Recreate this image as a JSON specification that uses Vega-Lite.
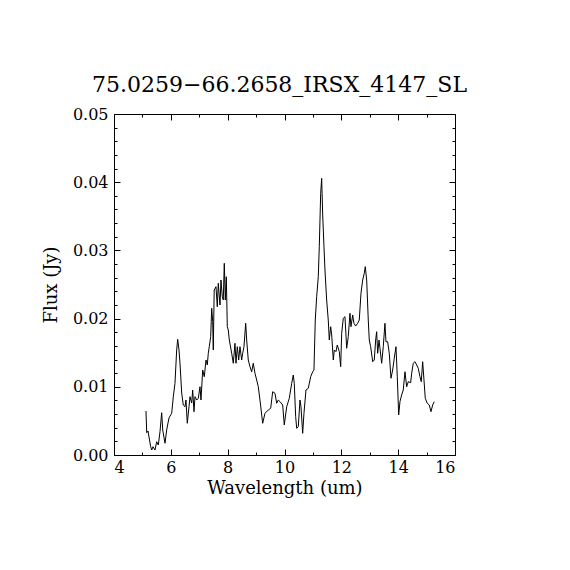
{
  "$schema": "https://vega.github.io/schema/vega-lite/v6.json",
  "width": 341,
  "height": 341,
  "autosize": "none",
  "padding": {"left": 114, "top": 114, "right": 115, "bottom": 115},
  "background": "white",
  "title": {
    "text": "75.0259−66.2658_IRSX_4147_SL",
    "font": "DejaVu Serif",
    "fontSize": 22,
    "fontWeight": "normal",
    "color": "black",
    "offset": 9,
    "dx": -5
  },
  "config": {
    "view": {"stroke": "black", "strokeWidth": 1},
    "axis": {
      "domain": false,
      "grid": false,
      "tickColor": "black",
      "tickWidth": 1,
      "labelColor": "black",
      "labelFont": "DejaVu Serif",
      "labelFontSize": 16,
      "titleColor": "black",
      "titleFont": "DejaVu Serif",
      "titleFontSize": 18,
      "titleFontWeight": "normal"
    }
  },
  "data": {
    "values": [
      {"wavelength": 5.126, "flux": 0.00645},
      {"wavelength": 5.151, "flux": 0.00327},
      {"wavelength": 5.196, "flux": 0.00352},
      {"wavelength": 5.291, "flux": 0.00122},
      {"wavelength": 5.327, "flux": 0.00073},
      {"wavelength": 5.372, "flux": 0.00122},
      {"wavelength": 5.443, "flux": 0.00073},
      {"wavelength": 5.502, "flux": 0.00195},
      {"wavelength": 5.559, "flux": 0.00147},
      {"wavelength": 5.619, "flux": 0.00342},
      {"wavelength": 5.678, "flux": 0.0062},
      {"wavelength": 5.714, "flux": 0.00367},
      {"wavelength": 5.795, "flux": 0.00172},
      {"wavelength": 5.854, "flux": 0.00367},
      {"wavelength": 5.935, "flux": 0.00543},
      {"wavelength": 6.03, "flux": 0.00611},
      {"wavelength": 6.087, "flux": 0.00855},
      {"wavelength": 6.146, "flux": 0.01051},
      {"wavelength": 6.206, "flux": 0.0154},
      {"wavelength": 6.241, "flux": 0.01696},
      {"wavelength": 6.287, "flux": 0.0154},
      {"wavelength": 6.322, "flux": 0.01349},
      {"wavelength": 6.382, "flux": 0.00909},
      {"wavelength": 6.438, "flux": 0.00733},
      {"wavelength": 6.498, "flux": 0.00708},
      {"wavelength": 6.533, "flux": 0.00806},
      {"wavelength": 6.579, "flux": 0.00465},
      {"wavelength": 6.639, "flux": 0.00708},
      {"wavelength": 6.674, "flux": 0.00855},
      {"wavelength": 6.734, "flux": 0.00762},
      {"wavelength": 6.769, "flux": 0.00953},
      {"wavelength": 6.815, "flux": 0.00635},
      {"wavelength": 6.85, "flux": 0.00855},
      {"wavelength": 6.91, "flux": 0.00806},
      {"wavelength": 6.966, "flux": 0.00831},
      {"wavelength": 7.026, "flux": 0.01001},
      {"wavelength": 7.061, "flux": 0.00806},
      {"wavelength": 7.121, "flux": 0.01246},
      {"wavelength": 7.177, "flux": 0.01148},
      {"wavelength": 7.237, "flux": 0.01393},
      {"wavelength": 7.283, "flux": 0.0132},
      {"wavelength": 7.318, "flux": 0.01491},
      {"wavelength": 7.353, "flux": 0.01588},
      {"wavelength": 7.403, "flux": 0.01735},
      {"wavelength": 7.438, "flux": 0.02151},
      {"wavelength": 7.473, "flux": 0.01955},
      {"wavelength": 7.494, "flux": 0.0154},
      {"wavelength": 7.526, "flux": 0.02419},
      {"wavelength": 7.589, "flux": 0.02468},
      {"wavelength": 7.634, "flux": 0.02174},
      {"wavelength": 7.67, "flux": 0.02518},
      {"wavelength": 7.73, "flux": 0.02199},
      {"wavelength": 7.765, "flux": 0.02566},
      {"wavelength": 7.811, "flux": 0.02321},
      {"wavelength": 7.846, "flux": 0.02273},
      {"wavelength": 7.881, "flux": 0.02811},
      {"wavelength": 7.917, "flux": 0.02273},
      {"wavelength": 7.952, "flux": 0.02614},
      {"wavelength": 7.987, "flux": 0.01881},
      {"wavelength": 8.022, "flux": 0.01833},
      {"wavelength": 8.058, "flux": 0.01686},
      {"wavelength": 8.142, "flux": 0.01491},
      {"wavelength": 8.198, "flux": 0.01345},
      {"wavelength": 8.258, "flux": 0.01638},
      {"wavelength": 8.293, "flux": 0.01345},
      {"wavelength": 8.339, "flux": 0.01588},
      {"wavelength": 8.388, "flux": 0.01393},
      {"wavelength": 8.433, "flux": 0.01588},
      {"wavelength": 8.493, "flux": 0.01393},
      {"wavelength": 8.528, "flux": 0.01491},
      {"wavelength": 8.574, "flux": 0.01588},
      {"wavelength": 8.634, "flux": 0.01931},
      {"wavelength": 8.669, "flux": 0.01686},
      {"wavelength": 8.725, "flux": 0.01393},
      {"wavelength": 8.785, "flux": 0.01295},
      {"wavelength": 8.845, "flux": 0.01221},
      {"wavelength": 8.901, "flux": 0.01345},
      {"wavelength": 8.961, "flux": 0.01198},
      {"wavelength": 9.021, "flux": 0.011},
      {"wavelength": 9.077, "flux": 0.01001},
      {"wavelength": 9.137, "flux": 0.00806},
      {"wavelength": 9.232, "flux": 0.00465},
      {"wavelength": 9.313, "flux": 0.00611},
      {"wavelength": 9.429, "flux": 0.0066},
      {"wavelength": 9.514, "flux": 0.00685},
      {"wavelength": 9.584, "flux": 0.00928},
      {"wavelength": 9.665, "flux": 0.00905},
      {"wavelength": 9.725, "flux": 0.00758},
      {"wavelength": 9.781, "flux": 0.00806},
      {"wavelength": 9.841, "flux": 0.00782},
      {"wavelength": 9.936, "flux": 0.00733},
      {"wavelength": 9.992, "flux": 0.0044},
      {"wavelength": 10.077, "flux": 0.00708},
      {"wavelength": 10.168, "flux": 0.00831},
      {"wavelength": 10.253, "flux": 0.01051},
      {"wavelength": 10.309, "flux": 0.01173},
      {"wavelength": 10.344, "flux": 0.01051},
      {"wavelength": 10.393, "flux": 0.00562},
      {"wavelength": 10.429, "flux": 0.00391},
      {"wavelength": 10.485, "flux": 0.00415},
      {"wavelength": 10.545, "flux": 0.00806},
      {"wavelength": 10.58, "flux": 0.00708},
      {"wavelength": 10.64, "flux": 0.00318},
      {"wavelength": 10.685, "flux": 0.00611},
      {"wavelength": 10.756, "flux": 0.00953},
      {"wavelength": 10.837, "flux": 0.00978},
      {"wavelength": 10.921, "flux": 0.01148},
      {"wavelength": 10.992, "flux": 0.01221},
      {"wavelength": 11.037, "flux": 0.01246},
      {"wavelength": 11.083, "flux": 0.01979},
      {"wavelength": 11.132, "flux": 0.02321},
      {"wavelength": 11.189, "flux": 0.02614},
      {"wavelength": 11.224, "flux": 0.03054},
      {"wavelength": 11.273, "flux": 0.03837},
      {"wavelength": 11.308, "flux": 0.04057},
      {"wavelength": 11.344, "flux": 0.03519},
      {"wavelength": 11.389, "flux": 0.03054},
      {"wavelength": 11.424, "flux": 0.02713},
      {"wavelength": 11.484, "flux": 0.02273},
      {"wavelength": 11.54, "flux": 0.01979},
      {"wavelength": 11.576, "flux": 0.01686},
      {"wavelength": 11.625, "flux": 0.01881},
      {"wavelength": 11.66, "flux": 0.0176},
      {"wavelength": 11.717, "flux": 0.01393},
      {"wavelength": 11.752, "flux": 0.0154},
      {"wavelength": 11.811, "flux": 0.01515},
      {"wavelength": 11.857, "flux": 0.01613},
      {"wavelength": 11.928, "flux": 0.01515},
      {"wavelength": 11.977, "flux": 0.01295},
      {"wavelength": 12.012, "flux": 0.01784},
      {"wavelength": 12.068, "flux": 0.02004},
      {"wavelength": 12.128, "flux": 0.02028},
      {"wavelength": 12.188, "flux": 0.01565},
      {"wavelength": 12.244, "flux": 0.01735},
      {"wavelength": 12.304, "flux": 0.02078},
      {"wavelength": 12.339, "flux": 0.01881},
      {"wavelength": 12.399, "flux": 0.02053},
      {"wavelength": 12.445, "flux": 0.01931},
      {"wavelength": 12.505, "flux": 0.01891},
      {"wavelength": 12.575, "flux": 0.01931},
      {"wavelength": 12.631, "flux": 0.01979},
      {"wavelength": 12.691, "flux": 0.02371},
      {"wavelength": 12.751, "flux": 0.02566},
      {"wavelength": 12.807, "flux": 0.02664},
      {"wavelength": 12.842, "flux": 0.02761},
      {"wavelength": 12.892, "flux": 0.02566},
      {"wavelength": 12.948, "flux": 0.01979},
      {"wavelength": 12.983, "flux": 0.01686},
      {"wavelength": 13.032, "flux": 0.01588},
      {"wavelength": 13.103, "flux": 0.01368},
      {"wavelength": 13.159, "flux": 0.01393},
      {"wavelength": 13.208, "flux": 0.01686},
      {"wavelength": 13.243, "flux": 0.01808},
      {"wavelength": 13.279, "flux": 0.01491},
      {"wavelength": 13.325, "flux": 0.01686},
      {"wavelength": 13.36, "flux": 0.01565},
      {"wavelength": 13.419, "flux": 0.01345},
      {"wavelength": 13.476, "flux": 0.01588},
      {"wavelength": 13.535, "flux": 0.01931},
      {"wavelength": 13.571, "flux": 0.01661},
      {"wavelength": 13.63, "flux": 0.01661},
      {"wavelength": 13.687, "flux": 0.01491},
      {"wavelength": 13.747, "flux": 0.01125},
      {"wavelength": 13.806, "flux": 0.01246},
      {"wavelength": 13.863, "flux": 0.01418},
      {"wavelength": 13.923, "flux": 0.01588},
      {"wavelength": 13.969, "flux": 0.01148},
      {"wavelength": 14.018, "flux": 0.00587},
      {"wavelength": 14.063, "flux": 0.00782},
      {"wavelength": 14.123, "flux": 0.0088},
      {"wavelength": 14.179, "flux": 0.00953},
      {"wavelength": 14.239, "flux": 0.01221},
      {"wavelength": 14.299, "flux": 0.01001},
      {"wavelength": 14.355, "flux": 0.01075},
      {"wavelength": 14.44, "flux": 0.0106},
      {"wavelength": 14.475, "flux": 0.01198},
      {"wavelength": 14.531, "flux": 0.01345},
      {"wavelength": 14.591, "flux": 0.01368},
      {"wavelength": 14.651, "flux": 0.0132},
      {"wavelength": 14.707, "flux": 0.01271},
      {"wavelength": 14.767, "flux": 0.01148},
      {"wavelength": 14.813, "flux": 0.01075},
      {"wavelength": 14.862, "flux": 0.01368},
      {"wavelength": 14.908, "flux": 0.011},
      {"wavelength": 14.954, "flux": 0.00831},
      {"wavelength": 15.024, "flux": 0.00758},
      {"wavelength": 15.095, "flux": 0.00733},
      {"wavelength": 15.154, "flux": 0.00635},
      {"wavelength": 15.214, "flux": 0.00733},
      {"wavelength": 15.27, "flux": 0.00782}
    ]
  },
  "layer": [
    {
      "mark": {"type": "line", "color": "black", "strokeWidth": 1},
      "encoding": {
        "x": {
          "field": "wavelength",
          "type": "quantitative",
          "scale": {"domain": [4, 16], "nice": false},
          "axis": {
            "orient": "bottom",
            "values": [4, 6, 8, 10, 12, 14, 16],
            "offset": -6,
            "tickSize": 6,
            "labelPadding": 4,
            "title": "Wavelength (um)",
            "titlePadding": 4
          }
        },
        "y": {
          "field": "flux",
          "type": "quantitative",
          "scale": {"domain": [0, 0.05], "nice": false, "zero": true},
          "axis": {
            "orient": "left",
            "values": [0, 0.01, 0.02, 0.03, 0.04, 0.05],
            "format": ".2f",
            "offset": -6,
            "tickSize": 6,
            "labelPadding": 6,
            "title": "Flux (Jy)",
            "titlePadding": 12
          }
        }
      }
    },
    {
      "mark": {"type": "line", "opacity": 0},
      "encoding": {
        "x": {
          "field": "wavelength",
          "type": "quantitative",
          "axis": {
            "orient": "bottom",
            "values": [5, 7, 9, 11, 13, 15],
            "offset": -3,
            "tickSize": 3,
            "labels": false,
            "title": null
          }
        },
        "y": {
          "field": "flux",
          "type": "quantitative",
          "axis": {
            "orient": "left",
            "values": [0.002, 0.004, 0.006, 0.008, 0.012, 0.014, 0.016, 0.018, 0.022, 0.024, 0.026, 0.028, 0.032, 0.034, 0.036, 0.038, 0.042, 0.044, 0.046, 0.048],
            "offset": -3,
            "tickSize": 3,
            "labels": false,
            "title": null
          }
        }
      }
    },
    {
      "mark": {"type": "line", "opacity": 0},
      "encoding": {
        "x": {
          "field": "wavelength",
          "type": "quantitative",
          "axis": {
            "orient": "top",
            "values": [4, 6, 8, 10, 12, 14, 16],
            "offset": -6,
            "tickSize": 6,
            "labels": false,
            "title": null
          }
        },
        "y": {
          "field": "flux",
          "type": "quantitative",
          "axis": {
            "orient": "right",
            "values": [0, 0.01, 0.02, 0.03, 0.04, 0.05],
            "offset": -6,
            "tickSize": 6,
            "labels": false,
            "title": null
          }
        }
      }
    },
    {
      "mark": {"type": "line", "opacity": 0},
      "encoding": {
        "x": {
          "field": "wavelength",
          "type": "quantitative",
          "axis": {
            "orient": "top",
            "values": [5, 7, 9, 11, 13, 15],
            "offset": -3,
            "tickSize": 3,
            "labels": false,
            "title": null
          }
        },
        "y": {
          "field": "flux",
          "type": "quantitative",
          "axis": {
            "orient": "right",
            "values": [0.002, 0.004, 0.006, 0.008, 0.012, 0.014, 0.016, 0.018, 0.022, 0.024, 0.026, 0.028, 0.032, 0.034, 0.036, 0.038, 0.042, 0.044, 0.046, 0.048],
            "offset": -3,
            "tickSize": 3,
            "labels": false,
            "title": null
          }
        }
      }
    }
  ],
  "resolve": {"axis": {"x": "independent", "y": "independent"}}
}
